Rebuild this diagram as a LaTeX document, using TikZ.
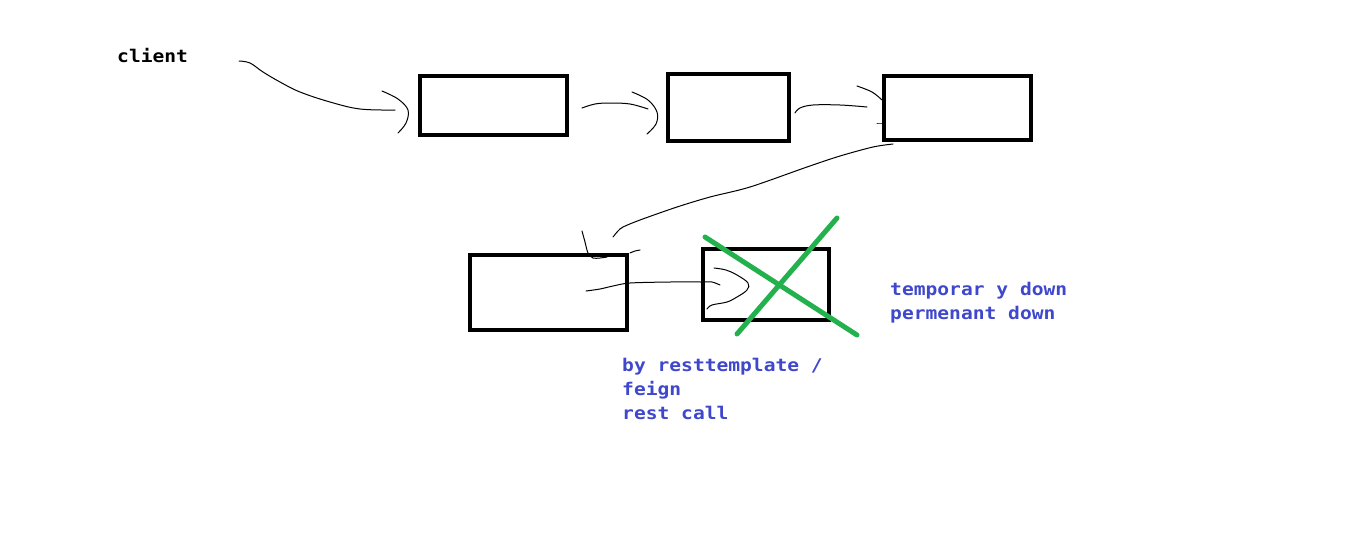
\documentclass[tikz,border=0pt]{standalone}
\usepackage{fontspec}
\newfontfamily\handmono[FakeStretch=1.12]{DejaVu Sans Mono}
\definecolor{paintgreen}{RGB}{34,177,76}
\definecolor{paintblue}{RGB}{63,72,204}
\tikzset{
  svc/.style={draw=black, line width=4pt, inner sep=0pt, outer sep=0pt},
  wire/.style={draw=black, line width=1pt, line join=round, line cap=round},
  cross/.style={draw=paintgreen, line width=5pt, line cap=round},
  lbl/.style={inner sep=0pt, anchor=base west, align=left, font=\handmono\bfseries\fontsize{17.5}{24}\selectfont},
}
\begin{document}
\begin{tikzpicture}[x=1pt,y=-1pt]
\useasboundingbox[fill=white] (0,0) rectangle (1349,544);
% boxes
\node[svc, minimum width=147pt, minimum height=59pt] (b1) at (493.5,105.5) {};
\node[svc, minimum width=121pt, minimum height=67pt] (b2) at (728.5,107.5) {};
\node[svc, minimum width=147pt, minimum height=64pt] (b3) at (957.5,108) {};
\node[svc, minimum width=157pt, minimum height=75pt] (b4) at (548.5,292.5) {};
\node[svc, minimum width=126pt, minimum height=71pt] (b5) at (766,284.5) {};
% texts (base anchor = baseline of the last line)
\node[lbl, text=black] (client) at (117,62) {client};
\node[lbl, text=paintblue] (down) at (890,319) {temporar y down\\permenant down};
\node[lbl, text=paintblue] (call) at (622,419) {by resttemplate /\\feign\\rest call};
% connector endpoints
\coordinate (a0) at (239,61);  \coordinate (a1) at (395,110);
\coordinate (c0) at (582,108); \coordinate (c1) at (648,109);
\coordinate (d0) at (795,113); \coordinate (d1) at (867,107);
\coordinate (e0) at (893,144); \coordinate (e1) at (613,237);
\coordinate (f0) at (586,291); \coordinate (f1) at (720,285);
% client -> b1
\draw[wire] plot[smooth, tension=0.6] coordinates {(a0) (250,63) (263,72) (280,82) (300,92) (330,102) (360,109) (a1)};
\draw[wire] plot[smooth, tension=0.6] coordinates {(382,91) (398,99) (408,110) (406,123) (398,133)};
% b1 -> b2
\draw[wire] plot[smooth, tension=0.6] coordinates {(c0) (595,104) (610,103) (630,104) (c1)};
\draw[wire] plot[smooth, tension=0.6] coordinates {(632,92) (648,100) (657,112) (656,124) (647,134)};
% b2 -> b3
\draw[wire] plot[smooth, tension=0.6] coordinates {(d0) (800,108) (813,105) (840,105) (d1)};
\draw[wire] plot[smooth, tension=0.6] coordinates {(857,86) (872,92) (882,100)};
\draw[wire] plot[smooth, tension=0.6] coordinates {(877,123) (883,123)};
% b3 -> b4
\draw[wire] plot[smooth, tension=0.5] coordinates {(e0) (873,147) (840,156) (807,167) (750,187) (710,197) (677,207) (640,220) (623,227) (618,231) (e1)};
\draw[wire] plot[smooth, tension=0.5] coordinates {(582,231) (585,242) (588,253) (593,258) (600,258) (607,257)};
\draw[wire] plot[smooth, tension=0.5] coordinates {(630,253) (635,251) (640,250)};
% b4 -> b5
\draw[wire] plot[smooth, tension=0.5] coordinates {(f0) (600,289) (613,286) (630,283) (670,282) (703,282) (712,282) (f1)};
\draw[wire] plot[smooth, tension=0.6] coordinates {(714,268) (726,270) (737,275) (748,283) (747,290) (737,297) (727,302) (712,305) (707,309)};
% green cross on b5
\coordinate (x1a) at (705,237); \coordinate (x1b) at (857,335);
\coordinate (x2a) at (837,218); \coordinate (x2b) at (737,334);
\draw[cross] (x1a) -- (x1b);
\draw[cross] (x2a) -- (x2b);
\end{tikzpicture}
\end{document}
